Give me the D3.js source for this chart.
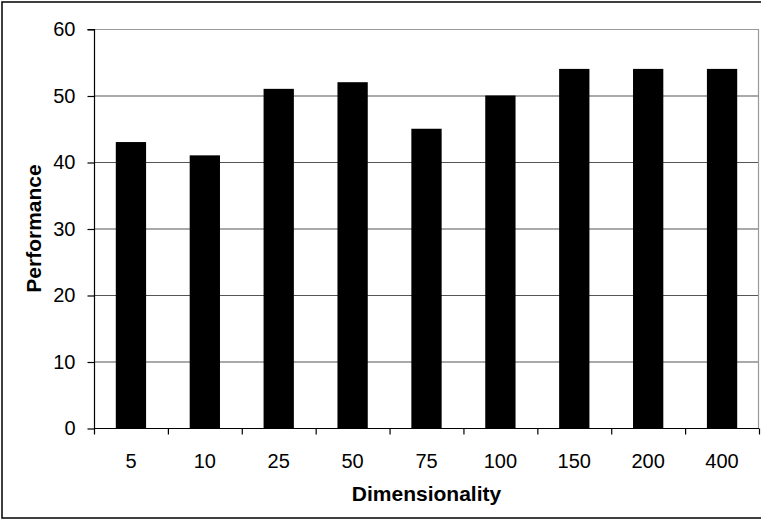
<!DOCTYPE html>
<html>
<head>
<meta charset="utf-8">
<script src="https://cdn.jsdelivr.net/npm/d3@7"></script>
<style>
  html, body { margin: 0; padding: 0; background: #fff; }
  svg { display: block; }
  text { font-family: "Liberation Sans", Arial, sans-serif; fill: #000; }
</style>
</head>
<body>
<svg id="chart" width="761" height="520"></svg>
<script>
const categories = ["5", "10", "25", "50", "75", "100", "150", "200", "400"];
const performance = [43, 41, 51, 52, 45, 50, 54, 54, 54];
const yTicks = [0, 10, 20, 30, 40, 50, 60];
const xTitle = "Dimensionality";
const yTitle = "Performance";

const W = 761, H = 520;
const plot = { left: 94, right: 759, top: 29, bottom: 428 };

const svg = d3.select("#chart");

// outer frame
svg.append("rect")
  .attr("x", 2).attr("y", 2)
  .attr("width", W + 10).attr("height", 516)
  .attr("fill", "none").attr("stroke", "#000").attr("stroke-width", 1.5);

const x = d3.scaleBand().domain(categories).range([plot.left, plot.right]).paddingInner(0.59).paddingOuter(0.295);
const xb = d3.scaleBand().domain(categories).range([plot.left, plot.right]);
const y = d3.scaleLinear().domain([0, 60]).range([plot.bottom, plot.top]);

// gridlines
svg.append("g").selectAll("line").data(yTicks.filter(d => d > 0 && d < 60)).join("line")
  .attr("x1", plot.left).attr("x2", plot.right)
  .attr("y1", d => y(d) + 0.5).attr("y2", d => y(d) + 0.5)
  .attr("stroke", "#555").attr("stroke-width", 1.2);

// plot border (top and right)
svg.append("path")
  .attr("d", `M${plot.left},${y(60) + 0.5}H${plot.right - 0.5}V${plot.bottom}`)
  .attr("fill", "none").attr("stroke", "#999").attr("stroke-width", 1.2);

// bars
svg.append("g").selectAll("rect").data(performance).join("rect")
  .attr("x", (d, i) => x(categories[i]))
  .attr("width", x.bandwidth())
  .attr("y", d => y(d))
  .attr("height", d => y(0) - y(d))
  .attr("fill", "#000");

// y axis
const yAxis = d3.axisLeft(y).tickValues(yTicks).tickSize(7).tickPadding(12).tickFormat(d3.format("d"));
const gy = svg.append("g").attr("transform", `translate(${plot.left + 0.5},0.5)`).call(yAxis);
gy.select(".domain").attr("d", `M-7,${y(60)}H0V${y(0)}`).attr("stroke", "#000").attr("stroke-width", 1.2);
gy.selectAll(".tick line").attr("stroke", "#000").attr("stroke-width", 1.2);
gy.selectAll(".tick text").style("font-size", "20px").attr("font-family", null);

// x axis
const xAxis = d3.axisBottom(xb).tickSize(0).tickPadding(25);
const gx = svg.append("g").attr("transform", `translate(0,${plot.bottom + 0.5})`).call(xAxis);
gx.select(".domain").attr("d", `M${plot.left},0H${plot.right}`).attr("stroke", "#000").attr("stroke-width", 1.2);
gx.selectAll(".tick text").style("font-size", "20px").attr("font-family", null);
// boundary ticks between categories
const bounds = categories.map(c => xb(c)).concat([plot.right]);
gx.append("g").selectAll("line").data(bounds).join("line")
  .attr("x1", d => d + 0.5).attr("x2", d => d + 0.5)
  .attr("y1", 0).attr("y2", 6)
  .attr("stroke", "#000").attr("stroke-width", 1.2);

// axis titles
svg.append("text")
  .attr("x", (plot.left + plot.right) / 2).attr("y", 501)
  .attr("text-anchor", "middle")
  .style("font-size", "21px").style("font-weight", "bold")
  .text(xTitle);

svg.append("text")
  .attr("transform", `translate(41,${(plot.top + plot.bottom) / 2}) rotate(-90)`)
  .attr("text-anchor", "middle")
  .style("font-size", "21px").style("font-weight", "bold")
  .text(yTitle);
</script>
</body>
</html>
